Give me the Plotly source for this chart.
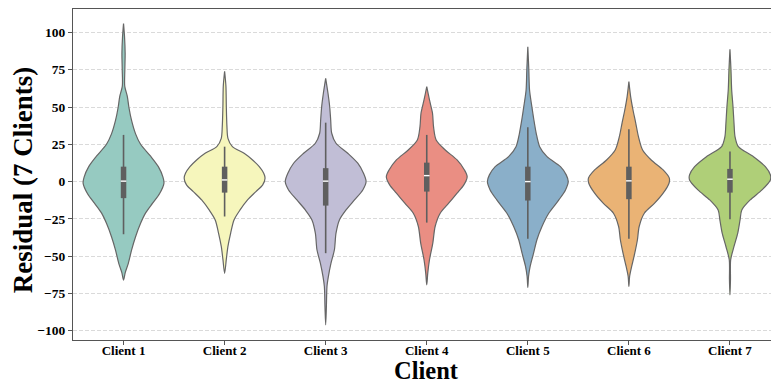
import colorsys
import plotly.graph_objects as go

clients = ["Client 1", "Client 2", "Client 3", "Client 4", "Client 5", "Client 6", "Client 7"]
palette = ["#8dd3c7", "#ffffb3", "#bebada", "#fb8072", "#80b1d3", "#fdb462", "#b3de69"]

# Kernel-density profiles: residual level (ascending) and relative half-width
c1_levels = [-66, -61, -55, -46, -37, -28, -21, -14.5, -8, -1, 3, 10, 17, 25, 32, 41, 50, 57, 64, 75, 86, 97, 106]
c1_widths = [0, 1.7, 4.7, 8, 12, 17, 22, 29, 36, 40.3, 39.3, 34.7, 27, 17, 12, 8, 5.3, 3.8, 1.2, 1.3, 1.6, 1.0, 0]

c2_levels = [-61.5, -52, -43.5, -34.5, -25.7, -19, -12.3, -6.7, -2.2, 2.3, 5.6, 10, 14.5, 19, 23.4, 29, 37, 50, 64, 74]
c2_widths = [0, 1.7, 3.3, 6, 9.3, 15.3, 22.7, 31, 37.7, 40, 38.7, 34.3, 27.7, 19.3, 7.7, 3.3, 2.3, 1.7, 1.3, 0]

c3_levels = [-96, -84, -70.3, -63.6, -54.7, -45.7, -34.6, -25.7, -19, -12.3, -5.6, 0, 5.6, 12.3, 19, 25.7, 32.4, 41.3, 50.2, 59.2, 69.2]
c3_widths = [0, 0.7, 1.3, 2.7, 5.3, 8.7, 10.3, 13.7, 20.3, 28.7, 37, 40.3, 37.7, 32, 22, 10.3, 6, 5, 4, 2.3, 0]

c4_levels = [-69.2, -61.4, -52.4, -41.3, -30.1, -21.2, -14.5, -7.8, -2.2, 3.3, 7.8, 14.5, 21.2, 27.9, 36.8, 45.8, 54.7, 63.6]
c4_widths = [0, 1, 2.7, 6, 8.3, 13.3, 21.7, 30, 36.7, 40, 37.3, 30, 18.3, 9.3, 6.7, 5.7, 2.7, 0]

c5_levels = [-71, -63.6, -56.9, -48, -39, -30.1, -21.2, -12.3, -5.6, 0, 4.5, 10, 16.7, 23.4, 32.4, 41.3, 50.2, 61.4, 74.8, 90.4]
c5_widths = [0, 0.7, 2.3, 5.7, 9, 14, 20.7, 30.7, 37.3, 40, 38, 32.3, 19, 11.7, 8.3, 6, 4, 1.7, 1, 0]

c6_levels = [-70.3, -63.6, -56.9, -48, -39, -30.1, -21.2, -14.5, -7.8, -1.1, 2.3, 7.8, 14.5, 21.2, 30.1, 39.1, 48, 57, 67]
c6_widths = [0, 0.7, 2.7, 5.7, 8.3, 10, 15, 25, 33.3, 39, 39.3, 33.3, 21.7, 13.3, 9.3, 6.7, 4, 1.7, 0]

c7_levels = [-76, -65.8, -52.4, -43.5, -34.6, -25.7, -19, -12.3, -5.6, 1.1, 4.5, 10, 16.7, 23.4, 30.1, 39.1, 50.2, 61.4, 74.8, 88.7]
c7_widths = [0, 0.5, 0.7, 4, 7.7, 10, 11.7, 20, 31.7, 40, 40, 35, 23.3, 8.3, 5, 4, 3, 1.7, 1, 0]

# Inner box statistics per client
q1 = [-11.1, -7.4, -16.1, -6.7, -12.7, -11.8, -7.4]
median = [0.3, 1.1, 0.3, 4.0, 0.0, 0.5, 1.6]
q3 = [10.0, 10.0, 9.0, 12.7, 10.0, 10.0, 8.5]
whisker_low = [-35.3, -23.4, -48.0, -27.5, -38.4, -38.4, -25.2]
whisker_high = [31.3, 23.4, 39.5, 31.3, 36.4, 35.1, 20.1]

profiles = [
    (c1_levels, c1_widths), (c2_levels, c2_widths), (c3_levels, c3_widths),
    (c4_levels, c4_widths), (c5_levels, c5_widths), (c6_levels, c6_widths),
    (c7_levels, c7_widths),
]

VIOLIN_WIDTH = 0.8
LINE_GRAY = "#666666"
BOX_GRAY = "#5f5f5f"
FONT = "Liberation Serif, Times New Roman, serif"


def desaturate(hex_color, prop=0.75):
    r, g, b = (int(hex_color[i:i + 2], 16) / 255 for i in (1, 3, 5))
    h, l, s = colorsys.rgb_to_hls(r, g, b)
    r, g, b = colorsys.hls_to_rgb(h, l, s * prop)
    return "rgb({:.0f},{:.0f},{:.0f})".format(r * 255, g * 255, b * 255)


fig = go.Figure()

for i, (levels, widths) in enumerate(profiles):
    peak = max(widths)
    half = [w / peak * VIOLIN_WIDTH / 2 for w in widths]
    xs = [i + h for h in half] + [i - h for h in reversed(half)]
    ys = list(levels) + list(reversed(levels))
    fig.add_trace(go.Scatter(
        x=xs, y=ys, mode="lines", fill="toself",
        fillcolor=desaturate(palette[i]),
        line=dict(color=LINE_GRAY, width=1.2, shape="spline", smoothing=0.8),
        hoverinfo="skip", showlegend=False,
    ))

for i in range(len(clients)):
    fig.add_trace(go.Scatter(
        x=[i, i], y=[whisker_low[i], whisker_high[i]], mode="lines",
        line=dict(color=BOX_GRAY, width=1.6), hoverinfo="skip", showlegend=False,
    ))
    fig.add_trace(go.Scatter(
        x=[i, i], y=[q1[i], q3[i]], mode="lines",
        line=dict(color=BOX_GRAY, width=5.5), hoverinfo="skip", showlegend=False,
    ))
    fig.add_trace(go.Scatter(
        x=[i], y=[median[i]], mode="markers",
        marker=dict(symbol="line-ew", size=4, line=dict(color="white", width=1.4)),
        hoverinfo="skip", showlegend=False,
    ))

y_ticks = [-100, -75, -50, -25, 0, 25, 50, 75, 100]
y_ticktext = [str(v).replace("-", "\u2212") for v in y_ticks]

fig.update_layout(
    width=771, height=385,
    margin=dict(l=73, r=0, t=9, b=45),
    paper_bgcolor="white", plot_bgcolor="white",
    font=dict(family=FONT, color="black"),
    xaxis=dict(
        range=[-0.5, 6.406], tickmode="array", tickvals=list(range(len(clients))),
        ticktext=clients, tickfont=dict(family=FONT, size=13, color="black", weight="bold"),
        showgrid=False, zeroline=False, showline=True, linecolor="#555555", linewidth=1.3,
        mirror=True, ticks="outside", ticklen=3.5, tickcolor="#555555", tickwidth=1,
        ticklabelstandoff=-5,
    ),
    yaxis=dict(
        range=[-106.2, 115.7], tickmode="array", tickvals=y_ticks, ticktext=y_ticktext,
        tickfont=dict(family=FONT, size=13.5, color="black", weight="bold"),
        showgrid=True, gridcolor="#dadada", gridwidth=0.8, griddash="4px,2px",
        zeroline=False, showline=True, linecolor="#555555", linewidth=1.3,
        ticks="outside", ticklen=4, tickcolor="#555555", tickwidth=1,
    ),
    annotations=[
        dict(text="<b>Client</b>", x=3, xref="x", y=-0.1355, yref="paper",
             xanchor="center", yanchor="bottom", borderpad=0, showarrow=False,
             font=dict(family=FONT, size=24.5, color="black")),
        dict(text="<b>Residual (7 Clients)</b>", x=-0.0716, xref="paper", y=0.483, yref="paper",
             xanchor="center", yanchor="middle", textangle=-90, showarrow=False,
             font=dict(family=FONT, size=27, color="black")),
    ],
)

fig.write_html("out.html")
